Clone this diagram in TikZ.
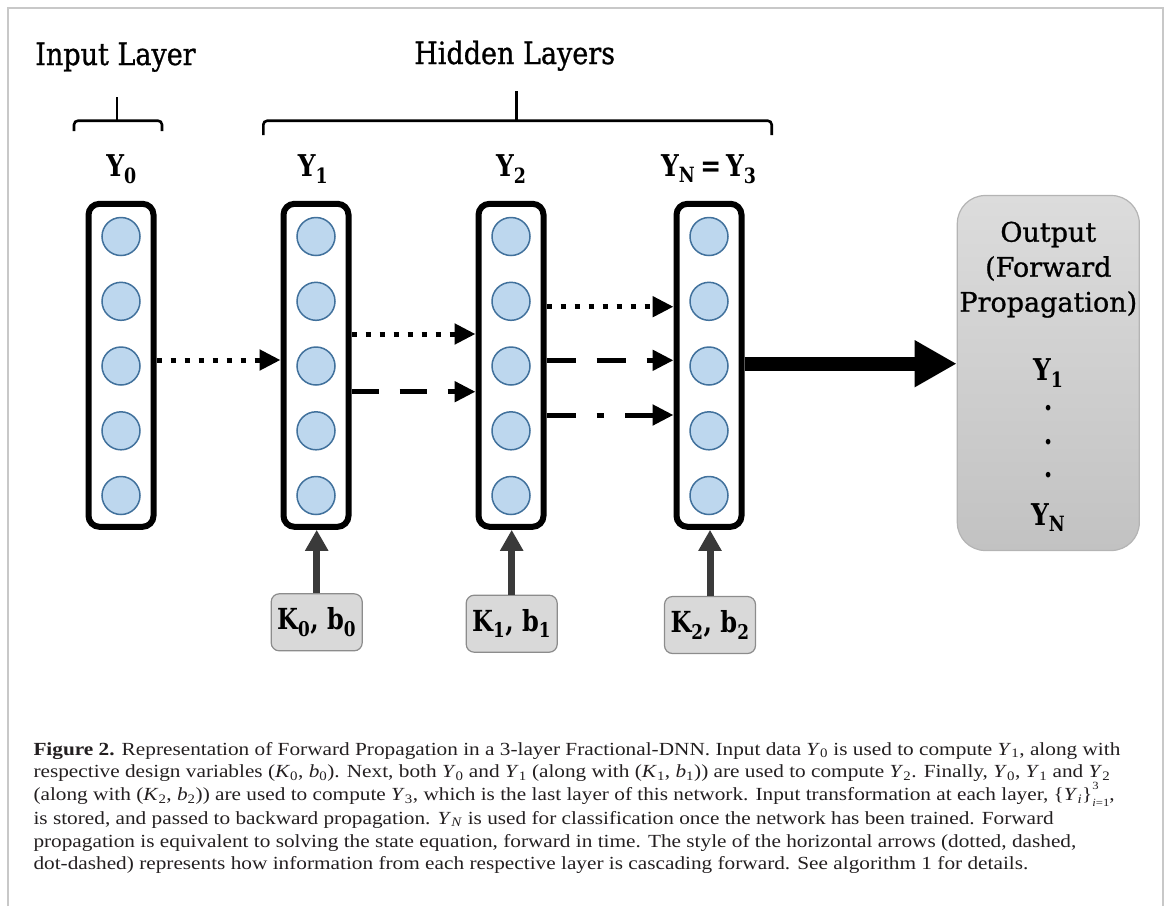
\documentclass[tikz,border=0pt]{standalone}
\usepackage{fontspec}
\setmainfont[FakeStretch=1.15]{Liberation Serif}
\newfontfamily\headfont[FakeStretch=0.88,FakeBold=0.9]{DejaVu Serif}
\newfontfamily\yfont[FakeStretch=0.83]{DejaVu Serif}
\newfontfamily\outfont[FakeBold=0.9]{DejaVu Serif}
\usetikzlibrary{arrows.meta}
\definecolor{circfill}{HTML}{BDD7EE}
\definecolor{circdraw}{HTML}{41719C}
\definecolor{kfill}{HTML}{D9D9D9}
\definecolor{kdraw}{HTML}{8C8C8C}
\definecolor{karrow}{HTML}{3A3A3A}
\definecolor{framegray}{HTML}{C8C8C8}
\definecolor{outtop}{HTML}{DCDCDC}
\definecolor{outbot}{HTML}{C2C2C2}
\definecolor{outdraw}{HTML}{B4B4B4}
\definecolor{captxt}{HTML}{231F20}
\newcommand{\vY}[1]{\textit{Y}\textsubscript{#1}}
\newcommand{\vK}[1]{\textit{K}\textsubscript{#1}}
\newcommand{\vb}[1]{\textit{b}\textsubscript{#1}}
\begin{document}
\begin{tikzpicture}[x=1pt,y=-1pt,
  layerbox/.style={draw=black, line width=6pt, rounded corners=11pt, minimum width=65pt, minimum height=323pt, inner sep=0pt, fill=white},
  neuron/.style={circle, draw=circdraw, fill=circfill, line width=1.5pt, minimum size=38pt, inner sep=0pt},
  headlab/.style={font=\headfont\fontsize{30.7}{33}\selectfont, anchor=base, inner sep=0pt},
  ylab/.style={font=\yfont\bfseries\fontsize{30}{33}\selectfont, anchor=base, inner sep=0pt},
  outlab/.style={font=\outfont\fontsize{27}{30}\selectfont, anchor=base, inner sep=0pt},
  kbox/.style={draw=kdraw, fill=kfill, line width=1.2pt, rounded corners=8pt, minimum width=91pt, minimum height=57pt, inner sep=0pt, font=\yfont\bfseries\fontsize{29}{32}\selectfont},
  outbox/.style={draw=outdraw, top color=outtop, bottom color=outbot, line width=1.2pt, rounded corners=28pt, minimum width=182pt, minimum height=355pt, inner sep=0pt},
  brace/.style={line width=2.6pt, rounded corners=4pt},
  dotline/.style={line width=5pt, dash pattern=on 5pt off 9pt, -{Triangle[length=21pt,width=20pt]}},
  dashline/.style={line width=5pt, dash pattern=on 27pt off 21pt, -{Triangle[length=21pt,width=20pt]}},
  dashline2/.style={line width=5pt, dash pattern=on 29pt off 21pt, -{Triangle[length=21pt,width=20pt]}},
  dashdotline/.style={line width=5pt, dash pattern=on 29pt off 21pt on 7.5pt off 21pt, -{Triangle[length=21pt,width=20pt]}},
  bigarrow/.style={line width=14pt, -{Triangle[length=42pt,width=44pt]}},
  karr/.style={draw=karrow, line width=7pt, -{Triangle[length=21pt,width=22pt]}},
  captext/.style={font=\fontsize{18.5}{22}\selectfont, text=captxt, anchor=base west, inner sep=0pt}
]
\useasboundingbox (0,0) rectangle (1170,906);
% frame
\draw[framegray, line width=2pt] (8,906) -- (8,8) -- (1163,8) -- (1163,906);

% headings
\node[headlab] (hin) at (115.5,65) {Input Layer};
\node[headlab] (hhid) at (514.7,64) {Hidden Layers};

% braces
\draw[brace] (74,131) |- (117,120.7) -| (162,131);
\draw[line width=2.6pt] (117,121) -- (117,96.7);
\draw[brace] (263.3,135) |- (516.7,120.7) -| (771.7,135);
\draw[line width=2.6pt] (516.7,121) -- (516.7,90.7);

% layer labels
\node[ylab] (y0) at (121.5,176) {Y\textsubscript{0}};
\node[ylab] (y1) at (313,176) {Y\textsubscript{1}};
\node[ylab] (y2) at (511.3,176) {Y\textsubscript{2}};
\node[ylab] (y3) at (708.8,176) {Y\textsubscript{N}\,=\,Y\textsubscript{3}};

% layers
\foreach \n/\x in {0/121,1/316,2/511,3/709}{
  \node[layerbox] (L\n) at (\x,365.3) {};
  \foreach \k/\y in {1/236.5,2/301.3,3/366,4/430.8,5/495.5}{
    \node[neuron] (c\n\k) at (\x,\y) {};
  }
}

% output box
\node[outbox] (Out) at (1048.3,373) {};
\node[outlab] (o1) at (1048.3,241.7) {Output};
\node[outlab] (o2) at (1048.3,276.7) {(Forward};
\node[outlab] (o3) at (1048.3,311.7) {Propagation)};
\node[ylab] (o4) at (1048.3,380) {Y\textsubscript{1}};
\node[ylab] (d1) at (1048.3,410.5) {.};
\node[ylab] (d2) at (1048.3,444) {.};
\node[ylab] (d3) at (1048.3,477.5) {.};
\node[ylab] (o5) at (1048.3,525) {Y\textsubscript{N}};

% horizontal arrows
\draw[dotline] (L0.east |- 0,360) -- (L1.west |- 0,360);
\draw[dotline] (L1.east |- 0,334) -- (L2.west |- 0,334);
\draw[dashline] (L1.east |- 0,391.7) -- (L2.west |- 0,391.7);
\draw[dotline] (L2.east |- 0,306.7) -- (L3.west |- 0,306.7);
\draw[dashline2] (L2.east |- 0,360.3) -- (L3.west |- 0,360.3);
\draw[dashdotline] (L2.east |- 0,415) -- (L3.west |- 0,415);
\draw[bigarrow] (L3.east |- 0,363.7) -- (Out.west |- 0,363.7);

% K boxes
\node[kbox] (K0) at (316.7,622.3) {K\textsubscript{0}, b\textsubscript{0}};
\node[kbox] (K1) at (511.7,623.7) {K\textsubscript{1}, b\textsubscript{1}};
\node[kbox] (K2) at (710,625) {K\textsubscript{2}, b\textsubscript{2}};
\draw[karr] (K0.north) -- (K0.north |- L1.south);
\draw[karr] (K1.north) -- (K1.north |- L2.south);
\draw[karr] (K2.north) -- (K2.north |- L3.south);

% caption
\node[captext] (cap1) at (33.3,755) {\textbf{Figure 2.} Representation of Forward Propagation in a 3-layer Fractional-DNN. Input data \vY{0} is used to compute \vY{1}, along with};
\node[captext] (cap2) at (33.3,777.5) {respective design variables (\vK{0}, \vb{0}). Next, both \vY{0} and \vY{1} (along with (\vK{1}, \vb{1})) are used to compute \vY{2}. Finally, \vY{0}, \vY{1} and \vY{2}};
\node[captext] (cap3) at (33.3,800.7) {(along with (\vK{2}, \vb{2})) are used to compute \vY{3}, which is the last layer of this network. Input transformation at each layer, \{\textit{Y}\textsubscript{\textit{i}}\}\rlap{\raisebox{0.62em}{\fontsize{11}{11}\selectfont 3}}\raisebox{-0.32em}{\fontsize{11}{11}\selectfont\textit{i}=1},};
\node[captext] (cap4) at (33.3,824) {is stored, and passed to backward propagation. \vY{\textit{N}} is used for classification once the network has been trained. Forward};
\node[captext] (cap5) at (33.3,847.3) {propagation is equivalent to solving the state equation, forward in time. The style of the horizontal arrows (dotted, dashed,};
\node[captext] (cap6) at (33.3,869.5) {dot-dashed) represents how information from each respective layer is cascading forward. See algorithm 1 for details.};
\end{tikzpicture}
\end{document}
